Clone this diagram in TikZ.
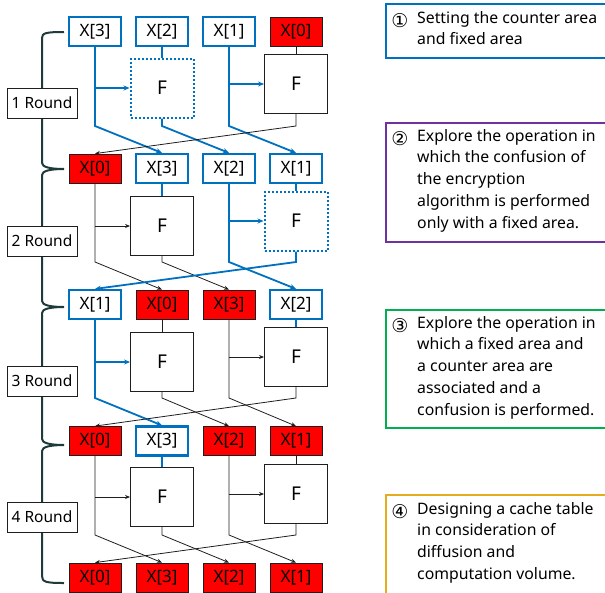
\documentclass[tikz,border=0pt]{standalone}
\usepackage{fontspec}
\setmainfont{Noto Sans}
\newfontfamily\circfont{DejaVu Sans}
\usetikzlibrary{arrows.meta}
\definecolor{cblue}{RGB}{0,112,192}
\definecolor{cred}{RGB}{255,0,0}
\definecolor{cpurple}{RGB}{112,48,160}
\definecolor{cgreen}{RGB}{0,176,80}
\definecolor{corange}{RGB}{230,172,30}
\definecolor{cbrace}{RGB}{30,58,58}
\definecolor{cgray}{RGB}{30,30,30}
\tikzset{
  xbox/.style={minimum width=52pt,minimum height=29pt,inner sep=0pt,font=\fontsize{17}{19}\selectfont},
  xb/.style={xbox,draw=cblue,line width=2.2pt,fill=white},
  xr/.style={xbox,draw=cgray,line width=0.8pt,fill=cred},
  fsolid/.style={minimum width=63pt,minimum height=59pt,inner sep=0pt,draw=cgray,line width=0.9pt,fill=white,font=\fontsize{19}{21}\selectfont},
  fdot/.style={fsolid,draw=cblue,line width=2pt,dotted},
  rnd/.style={minimum width=70pt,minimum height=30pt,inner sep=0pt,draw=cgray,line width=0.9pt,fill=white,font=\fontsize{15.5}{17}\selectfont},
  bl/.style={draw=cblue,line width=1.8pt},
  bk/.style={draw=cgray,line width=0.8pt},
  bla/.style={bl,-{Stealth[length=6pt,width=5pt]}},
  bka/.style={bk,-{Stealth[length=5pt,width=4pt]}},
  brace/.style={draw=cbrace,line width=2pt},
  note/.style={anchor=north west,align=left,inner sep=0pt,font=\fontsize{15.8}{21.7}\selectfont},
  num/.style={anchor=center,inner sep=0pt,font=\circfont\fontsize{19}{21.7}\selectfont},
  frame/.style={line width=2.4pt}
}
\begin{document}
\begin{tikzpicture}[x=1pt,y=-1pt]
\useasboundingbox (0,0) rectangle (605,592);
\begin{scope}
\clip (0,0) rectangle (605,592);
% right notes
\draw[frame,draw=cblue] (386,4) rectangle (640,58);
\draw[frame,draw=cpurple] (386,123) rectangle (640,242);
\draw[frame,draw=cgreen] (386,310) rectangle (640,428);
\draw[frame,draw=corange] (386,495) rectangle (640,620);
\end{scope}
\node[num] (n1) at (400,21) {①};
\node[note] (t1) at (417,11) {Setting the counter area\\and fixed area};
\node[num] (n2) at (400,139) {②};
\node[note] (t2) at (417,129) {Explore the operation in\\which the confusion of\\the encryption\\algorithm is performed\\only with a fixed area.};
\node[num] (n3) at (400,326) {③};
\node[note] (t3) at (417,316) {Explore the operation in\\which a fixed area and\\a counter area are\\associated and a\\confusion is performed.};
\node[num] (n4) at (400,512) {④};
\node[note] (t4) at (417,502) {Designing a cache table\\in consideration of\\diffusion and\\computation volume.};

% brace
\draw[brace] (64,32) .. controls (46,32) and (42,33) .. (42,38) -- (42,163)
  .. controls (42,167) and (50,169) .. (64,169) .. controls (50,169) and (42,171) .. (42,175)
  -- (42,301) .. controls (42,305) and (50,307) .. (64,307) .. controls (50,307) and (42,309) .. (42,313)
  -- (42,439) .. controls (42,443) and (50,445) .. (64,445) .. controls (50,445) and (42,447) .. (42,451)
  -- (42,576) .. controls (42,582) and (46,583) .. (64,583);
\node[rnd] (rd1) at (42,103) {1 Round};
\node[rnd] (rd2) at (42,241) {2 Round};
\node[rnd] (rd3) at (42,381) {3 Round};
\node[rnd] (rd4) at (42,517) {4 Round};

% elbow levels
\coordinate (e1) at (0,126);
\coordinate (e2) at (0,262);
\coordinate (e3) at (0,398);
\coordinate (e4) at (0,535);

% F boxes
\node[fdot] (f1a) at (162,88) {F};
\node[fsolid] (f1b) at (296,84) {F};
\node[fsolid] (f2a) at (162,226) {F};
\node[fdot] (f2b) at (296,221) {F};
\node[fsolid] (f3a) at (162,362) {F};
\node[fsolid] (f3b) at (296,357) {F};
\node[fsolid] (f4a) at (162,497) {F};
\node[fsolid] (f4b) at (296,494) {F};

% X rows
\node[xb] (r1c1) at (95,31.5) {X[3]};
\node[xb] (r1c2) at (162,31.5) {X[2]};
\node[xb] (r1c3) at (229,31.5) {X[1]};
\node[xr] (r1c4) at (296,31.5) {X[0]};
\node[xr] (r2c1) at (95,168.5) {X[0]};
\node[xb] (r2c2) at (162,168.5) {X[3]};
\node[xb] (r2c3) at (229,168.5) {X[2]};
\node[xb] (r2c4) at (296,168.5) {X[1]};
\node[xb] (r3c1) at (95,304.5) {X[1]};
\node[xr] (r3c2) at (162,304.5) {X[0]};
\node[xr] (r3c3) at (229,304.5) {X[3]};
\node[xb] (r3c4) at (296,304.5) {X[2]};
\node[xr] (r4c1) at (95,441) {X[0]};
\node[xb] (r4c2) at (162,441) {X[3]};
\node[xr] (r4c3) at (229,441) {X[2]};
\node[xr] (r4c4) at (296,441) {X[1]};
\node[xr] (r5c1) at (95,577.5) {X[0]};
\node[xr] (r5c2) at (162,577.5) {X[3]};
\node[xr] (r5c3) at (229,577.5) {X[2]};
\node[xr] (r5c4) at (296,577.5) {X[1]};

% ---- Round 1
\draw[bla] (r1c1.south) -- (r1c1.south |- e1) -- (r2c2.north);
\draw[bla] (r1c1.south |- f1a.west) -- (f1a.west);
\draw[bl] (r1c2.south) -- (f1a.north);
\draw[bla] (f1a.south) -- (f1a.south |- e1) -- (r2c3.north);
\draw[bla] (r1c3.south) -- (r1c3.south |- e1) -- (r2c4.north);
\draw[bla] (r1c3.south |- f1b.west) -- (f1b.west);
\draw[bk] (r1c4.south) -- (f1b.north);
\draw[bka] (f1b.south) -- (f1b.south |- e1) -- (r2c1.north);
% ---- Round 2
\draw[bka] (r2c1.south) -- (r2c1.south |- e2) -- (r3c2.north);
\draw[bka] (r2c1.south |- f2a.west) -- (f2a.west);
\draw[bl] (r2c2.south) -- (f2a.north);
\draw[bka] (f2a.south) -- (f2a.south |- e2) -- (r3c3.north);
\draw[bla] (r2c3.south) -- (r2c3.south |- e2) -- (r3c4.north);
\draw[bla] (r2c3.south |- f2b.west) -- (f2b.west);
\draw[bl] (r2c4.south) -- (f2b.north);
\draw[bla] (f2b.south) -- (f2b.south |- e2) -- (r3c1.north);
% ---- Round 3
\draw[bla] (r3c1.south) -- (r3c1.south |- e3) -- (r4c2.north);
\draw[bla] (r3c1.south |- f3a.west) -- (f3a.west);
\draw[bk] (r3c2.south) -- (f3a.north);
\draw[bka] (f3a.south) -- (f3a.south |- e3) -- (r4c3.north);
\draw[bka] (r3c3.south) -- (r3c3.south |- e3) -- (r4c4.north);
\draw[bka] (r3c3.south |- f3b.west) -- (f3b.west);
\draw[bl] (r3c4.south) -- (f3b.north);
\draw[bka] (f3b.south) -- (f3b.south |- e3) -- (r4c1.north);
% ---- Round 4
\draw[bka] (r4c1.south) -- (r4c1.south |- e4) -- (r5c2.north);
\draw[bka] (r4c1.south |- f4a.west) -- (f4a.west);
\draw[bl] (r4c2.south) -- (f4a.north);
\draw[bka] (f4a.south) -- (f4a.south |- e4) -- (r5c3.north);
\draw[bka] (r4c3.south) -- (r4c3.south |- e4) -- (r5c4.north);
\draw[bka] (r4c3.south |- f4b.west) -- (f4b.west);
\draw[bk] (r4c4.south) -- (f4b.north);
\draw[bka] (f4b.south) -- (f4b.south |- e4) -- (r5c1.north);
\end{tikzpicture}
\end{document}
